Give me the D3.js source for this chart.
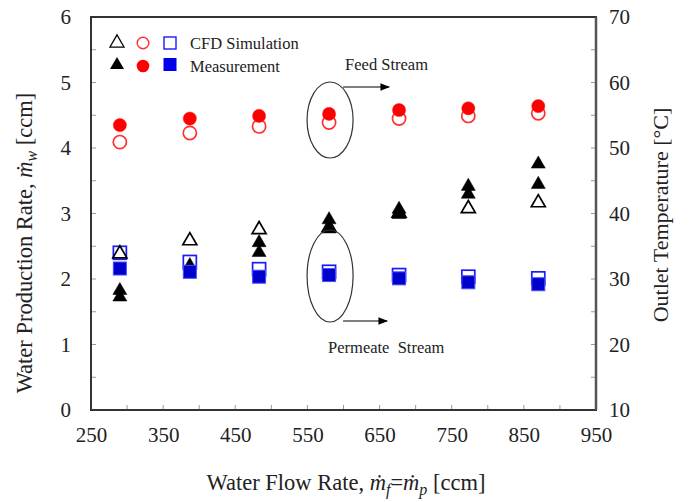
<!DOCTYPE html>
<html>
<head>
<meta charset="utf-8">
<script src="https://cdn.jsdelivr.net/npm/d3@7"></script>
<style>
  body { margin: 0; background: #fff; }
  svg { font-family: "Liberation Serif", "Times New Roman", serif; }
</style>
</head>
<body>
<svg id="chart" width="691" height="502"></svg>
<script>
// ---- data ----
const flowRates = [290, 387, 483, 580, 677, 773, 870];
// Water production rate [ccm] (left axis)
const rateCFD = [2.40, 2.60, 2.77, 2.80, 3.02, 3.09, 3.18];
const rateMeasA = [1.84, 2.22, 2.57, 2.92, 3.08, 3.43, 3.77];
const rateMeasB = [1.74, null, 2.42, 2.78, 3.00, 3.31, 3.46];
// Feed stream outlet temperature [°C] (right axis)
const feedCFD = [50.9, 52.3, 53.3, 53.9, 54.5, 54.9, 55.3];
const feedMeas = [53.5, 54.5, 54.9, 55.2, 55.8, 56.05, 56.4];
// Permeate stream outlet temperature [°C] (right axis)
const permCFD = [34.0, 32.6, 31.5, 31.1, 30.6, 30.35, 30.1];
const permMeas = [31.6, 31.1, 30.35, 30.6, 30.1, 29.5, 29.2];

const xTicks = [250, 350, 450, 550, 650, 750, 850, 950];
const yLeftTicks = [0, 1, 2, 3, 4, 5, 6];
const yRightTicks = [10, 20, 30, 40, 50, 60, 70];

// ---- layout ----
const svg = d3.select("#chart");
const L = 91, R = 596, T = 17, B = 410;
const x = d3.scaleLinear().domain([250, 950]).range([L, R]);
const yL = d3.scaleLinear().domain([0, 6]).range([B, T]);
const yR = d3.scaleLinear().domain([10, 70]).range([B, T]);

// minor ticks (inward)
const g = svg.append("g");
const tickLen = 5;
d3.range(250, 951, 50).forEach(v => {
  g.append("line").attr("x1", x(v)).attr("x2", x(v)).attr("y1", B).attr("y2", B - tickLen)
    .attr("stroke", "#999").attr("stroke-width", 1);
});
d3.range(0, 6.01, 0.5).forEach(v => {
  g.append("line").attr("x1", L).attr("x2", L + tickLen).attr("y1", yL(v)).attr("y2", yL(v))
    .attr("stroke", "#999").attr("stroke-width", 1);
});
d3.range(10, 70.01, 5).forEach(v => {
  g.append("line").attr("x1", R).attr("x2", R - tickLen).attr("y1", yR(v)).attr("y2", yR(v))
    .attr("stroke", "#999").attr("stroke-width", 1);
});

// frame
svg.append("rect").attr("x", L).attr("y", T).attr("width", R - L).attr("height", B - T)
  .attr("fill", "none").attr("stroke", "#333").attr("stroke-width", 2);
svg.append("line").attr("x1", R).attr("x2", R).attr("y1", T).attr("y2", B)
  .attr("stroke", "#555").attr("stroke-width", 2.5);

// axes labels via d3 axes (domain hidden)
const axB = svg.append("g").attr("transform", `translate(0,${B})`)
  .call(d3.axisBottom(x).tickValues(xTicks).tickSize(0).tickPadding(17).tickFormat(d3.format("d")));
const axL = svg.append("g").attr("transform", `translate(${L},0)`)
  .call(d3.axisLeft(yL).tickValues(yLeftTicks).tickSize(0).tickPadding(20).tickFormat(d3.format("d")));
const axR = svg.append("g").attr("transform", `translate(${R},0)`)
  .call(d3.axisRight(yR).tickValues(yRightTicks).tickSize(0).tickPadding(13).tickFormat(d3.format("d")));
[axB, axL, axR].forEach(a => {
  a.select(".domain").remove();
  a.selectAll("text").attr("font-family", "Liberation Serif, serif").attr("font-size", 21).attr("fill", "#222");
});

// axis titles
const xt = svg.append("text").attr("x", 346).attr("y", 490).attr("text-anchor", "middle")
  .attr("font-size", 22.5).attr("fill", "#222");
xt.append("tspan").text("Water Flow Rate, ");
xt.append("tspan").attr("font-style", "italic").text("ṁ");
xt.append("tspan").attr("font-style", "italic").attr("font-size", 16).attr("dy", 5).text("f");
xt.append("tspan").attr("dy", -5).text("=");
xt.append("tspan").attr("font-style", "italic").text("ṁ");
xt.append("tspan").attr("font-style", "italic").attr("font-size", 16).attr("dy", 5).text("p");
xt.append("tspan").attr("dy", -5).text(" [ccm]");

const yt = svg.append("text").attr("transform", "translate(32,243) rotate(-90)")
  .attr("text-anchor", "middle").attr("font-size", 22.5).attr("fill", "#222");
yt.append("tspan").text("Water Production Rate, ");
yt.append("tspan").attr("font-style", "italic").text("ṁ");
yt.append("tspan").attr("font-style", "italic").attr("font-size", 16).attr("dy", 5).text("w");
yt.append("tspan").attr("dy", -5).text(" [ccm]");

svg.append("text").attr("transform", "translate(668,215) rotate(-90)")
  .attr("text-anchor", "middle").attr("font-size", 22).attr("fill", "#222")
  .text("Outlet Temperature [°C]");

// ---- markers ----
const tri = d3.symbol().type(d3.symbolTriangle).size(85);
const circ = 6.6, sq = 13;

function triangles(vals, filled) {
  svg.append("g").selectAll("path").data(flowRates.map((f, i) => [f, vals[i]]).filter(d => d[1] != null))
    .join("path").attr("d", tri)
    .attr("transform", d => `translate(${x(d[0])},${yL(d[1]) + 1})`)
    .attr("fill", filled ? "#000" : "#fff").attr("fill-opacity", filled ? 1 : 0)
    .attr("stroke", "#000").attr("stroke-width", filled ? 0.5 : 1.7);
}
function circles(vals, filled) {
  svg.append("g").selectAll("circle").data(flowRates.map((f, i) => [f, vals[i]]))
    .join("circle").attr("cx", d => x(d[0])).attr("cy", d => yR(d[1])).attr("r", circ)
    .attr("fill", filled ? "#ff0000" : "none").attr("stroke", filled ? "#ff2020" : "#ff3030")
    .attr("stroke-width", filled ? 0.5 : 1.7);
}
function squares(vals, filled) {
  svg.append("g").selectAll("rect").data(flowRates.map((f, i) => [f, vals[i]]))
    .join("rect").attr("x", d => x(d[0]) - sq / 2).attr("y", d => yR(d[1]) - sq / 2)
    .attr("width", sq).attr("height", sq)
    .attr("fill", filled ? "#0000cc" : "none").attr("stroke", filled ? "#4a4aff" : "#1a1aff")
    .attr("stroke-width", filled ? 1 : 1.7);
}

circles(feedCFD, false);
circles(feedMeas, true);
triangles(rateMeasA, true);
triangles(rateMeasB, true);
squares(permCFD, false);
squares(permMeas, true);
triangles(rateCFD, false);

// ---- annotations ----
svg.append("defs").append("marker").attr("id", "arrow").attr("viewBox", "0 0 10 10")
  .attr("refX", 9).attr("refY", 5).attr("markerWidth", 8).attr("markerHeight", 8).attr("orient", "auto")
  .append("path").attr("d", "M0,1 L10,5 L0,9 Z").attr("fill", "#000");

const ax = x(580);
svg.append("ellipse").attr("cx", ax + 1).attr("cy", 120).attr("rx", 23).attr("ry", 38)
  .attr("fill", "none").attr("stroke", "#333").attr("stroke-width", 1.2);
svg.append("line").attr("x1", ax + 14).attr("y1", 87).attr("x2", ax + 60).attr("y2", 87)
  .attr("stroke", "#000").attr("stroke-width", 1.2).attr("marker-end", "url(#arrow)");
svg.append("text").attr("x", ax + 16).attr("y", 70).attr("font-size", 16.5).attr("fill", "#222").text("Feed Stream");

svg.append("ellipse").attr("cx", ax + 1).attr("cy", 276).attr("rx", 23).attr("ry", 46)
  .attr("fill", "none").attr("stroke", "#333").attr("stroke-width", 1.2);
svg.append("line").attr("x1", ax + 14).attr("y1", 321).attr("x2", ax + 58).attr("y2", 321)
  .attr("stroke", "#000").attr("stroke-width", 1.2).attr("marker-end", "url(#arrow)");
svg.append("text").attr("x", ax - 1).attr("y", 353).attr("font-size", 16.5).attr("fill", "#222")
  .attr("xml:space", "preserve").text("Permeate  Stream");

// ---- legend ----
const lg = svg.append("g");
const lx = [117, 143, 170], ly = [43, 65];
lg.append("path").attr("d", tri).attr("transform", `translate(${lx[0]},${ly[0]})`)
  .attr("fill", "none").attr("stroke", "#000").attr("stroke-width", 1.3);
lg.append("circle").attr("cx", lx[1]).attr("cy", ly[0]).attr("r", 5.8).attr("fill", "none")
  .attr("stroke", "#ff3030").attr("stroke-width", 1.4);
lg.append("rect").attr("x", lx[2] - 6).attr("y", ly[0] - 6).attr("width", 12).attr("height", 12)
  .attr("fill", "none").attr("stroke", "#1a1aff").attr("stroke-width", 1.4);
lg.append("path").attr("d", tri).attr("transform", `translate(${lx[0]},${ly[1]})`).attr("fill", "#000");
lg.append("circle").attr("cx", lx[1]).attr("cy", ly[1] + 1).attr("r", 6.3).attr("fill", "#ff0000");
lg.append("rect").attr("x", lx[2] - 6.5).attr("y", ly[1] - 7).attr("width", 13).attr("height", 13)
  .attr("fill", "#0000ee");
lg.append("text").attr("x", 190).attr("y", ly[0] + 6).attr("font-size", 16.5).attr("fill", "#222").text("CFD Simulation");
lg.append("text").attr("x", 190).attr("y", ly[1] + 7).attr("font-size", 16.5).attr("fill", "#222").text("Measurement");
</script>
</body>
</html>
